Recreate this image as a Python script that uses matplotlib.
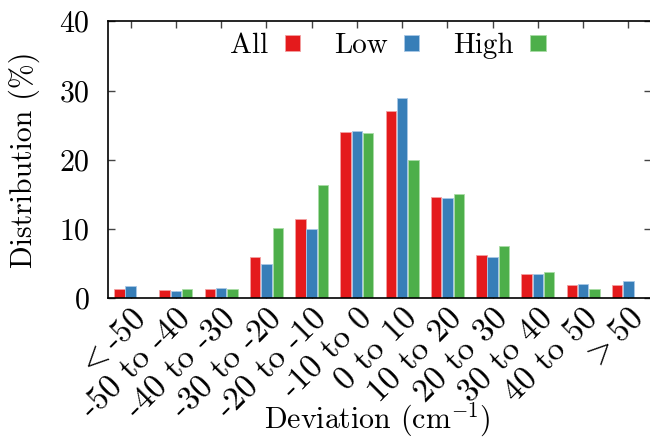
import numpy as np
import matplotlib
matplotlib.use("Agg")
import matplotlib.pyplot as plt
from matplotlib.patches import Patch

plt.rcParams['font.family'] = ['cmr10', 'DejaVu Serif']
plt.rcParams['mathtext.fontset'] = 'cm'
plt.rcParams['axes.unicode_minus'] = False
plt.rcParams['axes.formatter.use_mathtext'] = True

categories = ['$<$-50', '-50 to -40', '-40 to -30', '-30 to -20', '-20 to -10',
              '-10 to 0', '0 to 10', '10 to 20', '20 to 30', '30 to 40',
              '40 to 50', '$>$50']
series_names = ['All', 'Low', 'High']
all_vals = [1.4, 1.15, 1.4, 6.0, 11.4, 24.0, 27.0, 14.6, 6.3, 3.5, 1.9, 1.9]
low_vals = [1.8, 1.05, 1.45, 4.9, 10.0, 24.1, 28.9, 14.5, 5.9, 3.5, 2.1, 2.45]
high_vals = [0.0, 1.3, 1.3, 10.1, 16.3, 23.8, 20.0, 15.1, 7.6, 3.8, 1.3, 0.0]
colors = ['#E41A1C', '#377EB8', '#4DAF4A']
edge_colors = ['#F3A0A1', '#A9C8E6', '#A9DCA6']

FS = 21.5

fig = plt.figure(figsize=(6.5, 4.38), dpi=100)
ax = fig.add_axes([0.1662, 0.3190, 0.8354, 0.6324])

x = np.arange(len(categories))
width = 0.25
for i, (vals, col, ec) in enumerate(zip([all_vals, low_vals, high_vals], colors, edge_colors)):
    ax.bar(x + (i - 1) * width, vals, width * 0.92, color=col,
           edgecolor=ec, linewidth=0.6, zorder=2)

ax.set_xlim(-0.5, 11.5)
ax.set_ylim(0, 40)
ax.set_yticks([0, 10, 20, 30, 40])
ax.set_xticks(x)
ax.set_xticklabels(categories, rotation=45, ha='right', va='top',
                   rotation_mode='anchor', fontsize=24)
ax.set_axisbelow(True)

ax.tick_params(axis='both', direction='in', length=5, width=1, color='#444444',
               top=True, right=True)
ax.tick_params(axis='y', pad=13, labelsize=FS)
ax.tick_params(axis='x', pad=4)
for sp in ax.spines.values():
    sp.set_linewidth(1.2)
    sp.set_zorder(3)

ax.set_ylabel('Distribution (%)', fontsize=FS)
ax.yaxis.set_label_coords(-0.125, 0.5)
ax.set_xlabel('Deviation (cm$^{-1}$)', fontsize=FS)
ax.xaxis.set_label_coords(0.496, -0.37)

handles = [Patch(facecolor=c, edgecolor=ec, linewidth=0.6) for c, ec in zip(colors, edge_colors)]
ax.legend(handles, series_names, loc='upper center', bbox_to_anchor=(0.515, 1.0),
          ncol=3, frameon=False, markerfirst=False, fontsize=21,
          handlelength=0.52, handleheight=0.5, handletextpad=0.58,
          columnspacing=1.15, borderaxespad=0.0)

fig.savefig('out.png', dpi=100)
